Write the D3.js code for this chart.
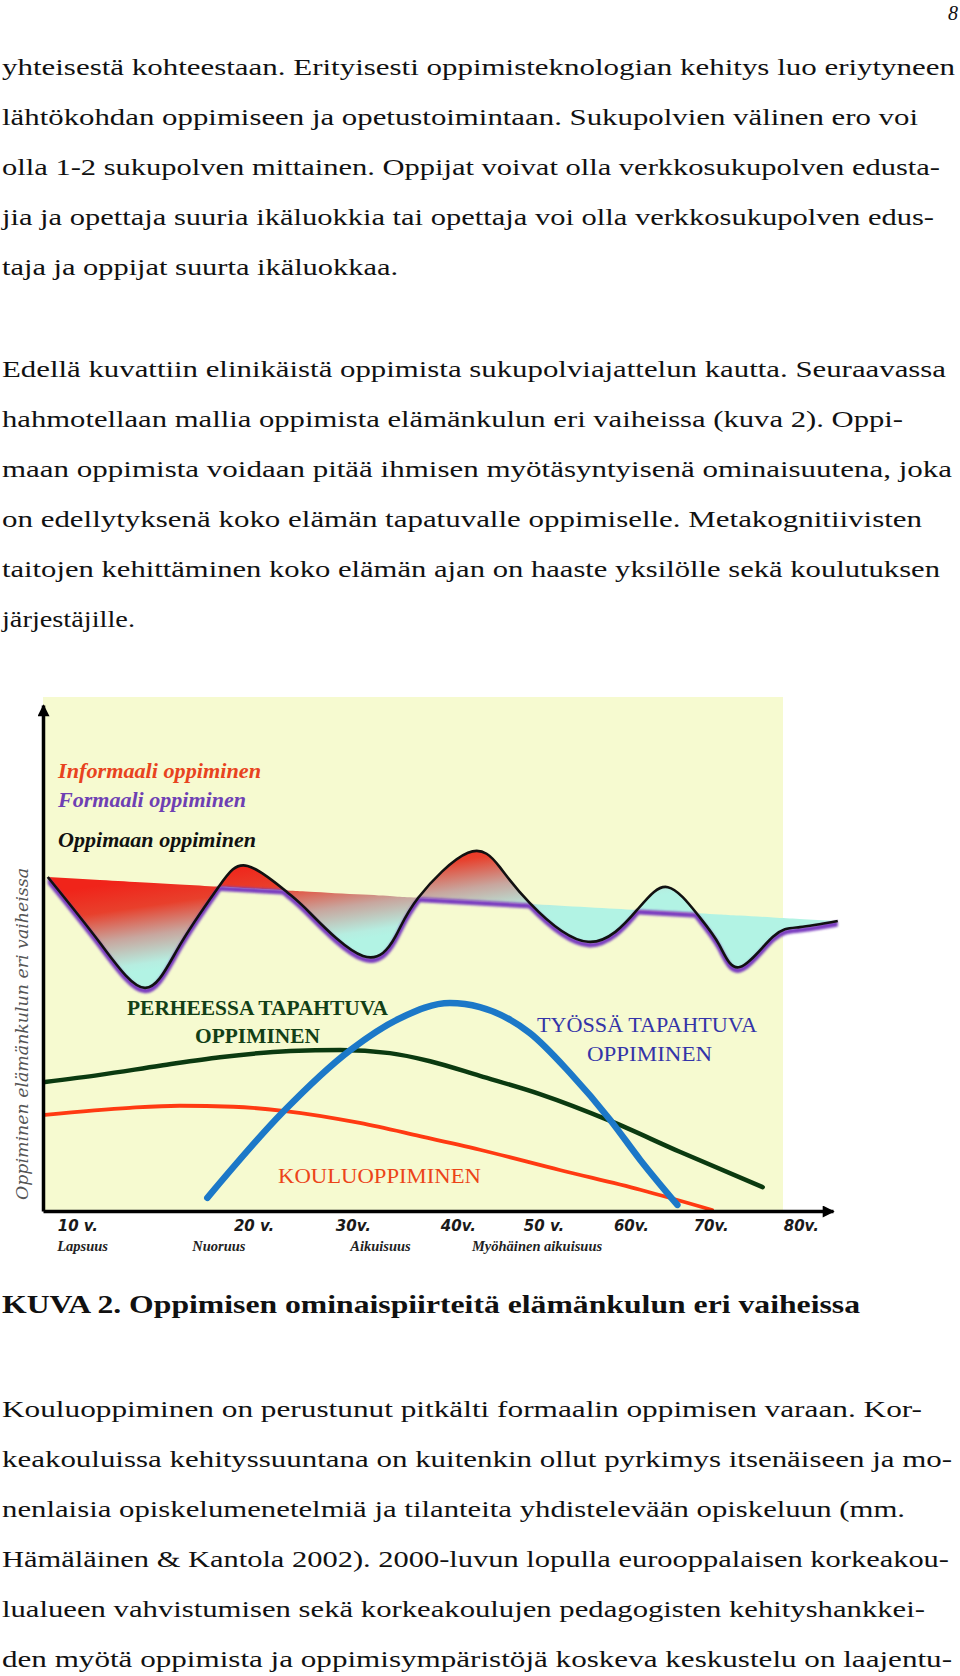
<!DOCTYPE html>
<html><head><meta charset="utf-8">
<script src="https://cdn.jsdelivr.net/npm/d3@7"></script>
<style>html,body{margin:0;padding:0;background:#fff;} svg{display:block;}</style>
</head><body>
<svg id="page" width="960" height="1676"></svg>
<script>
// ---------------- DATA ----------------
// x: position along the life-course axis (0..100), y: level (0..100)
const ageLabels   = ["10 v.","20 v.","30v.","40v.","50 v.","60v.","70v.","80v."];
const agePos      = [1.8, 24.1, 37.0, 50.3, 60.8, 72.2, 82.3, 93.7];
const phaseLabels = ["Lapsuus","Nuoruus","Aikuisuus","Myöhäinen aikuisuus"];
const phasePos    = [1.8, 18.9, 38.9, 54.3];

// Oppimaan oppiminen (wave)
const waveX = [0.6, 7.2, 12.9, 17.3, 22.2, 25.9, 30.9, 33.8, 40.5, 44.6, 47.5, 53.8, 57.8, 61.6, 69.0, 75.2, 79.1, 82.9, 85.6, 88.2, 92.4, 95.8, 100.6];
const waveY = [66.0, 53.0, 44.1, 52.5, 64.0, 68.2, 63.0, 58.9, 50.4, 54.2, 61.9, 70.8, 68.0, 60.9, 53.2, 59.5, 64.0, 58.5, 52.6, 48.2, 54.2, 56.1, 57.3];
// Formaali oppiminen reference line (start, end)
const formalX = [0.6, 100.6];
const formalY = [66.0, 57.3];

// Perheessä tapahtuva oppiminen
const familyX = [0.25, 7.2, 14.8, 22.4, 31.3, 37.6, 43.9, 49.0, 55.3, 62.9, 71.8, 80.6, 91.1];
const familyY = [25.5, 26.9, 28.7, 30.4, 31.6, 31.8, 31.2, 29.6, 26.7, 23.1, 17.8, 11.7, 4.7];
// Kouluoppiminen
const schoolX = [0.25, 11.0, 17.3, 24.1, 30.4, 40.1, 47.7, 55.3, 65.4, 75.6, 84.7];
const schoolY = [19.0, 20.4, 20.8, 20.6, 19.8, 17.4, 14.8, 12.1, 8.1, 4.2, 0.2];
// Työssä tapahtuva oppiminen
const workX = [20.8, 30.4, 38.9, 45.2, 51.5, 55.3, 61.6, 66.7, 71.8, 75.6, 80.3];
const workY = [2.6, 19.6, 31.8, 38.1, 41.1, 40.3, 35.2, 27.3, 18.0, 10.1, 1.2];

const legendTexts = ["Informaali oppiminen","Formaali oppiminen","Oppimaan oppiminen"];
const yAxisTitle = "Oppiminen elämänkulun eri vaiheissa";
const familyLabel = ["PERHEESSA TAPAHTUVA","OPPIMINEN"];
const workLabel = ["TYÖSSÄ TAPAHTUVA","OPPIMINEN"];
const schoolLabel = "KOULUOPPIMINEN";
const caption = "KUVA 2. Oppimisen ominaispiirteitä elämänkulun eri vaiheissa";

const para1 = [
 "yhteisestä kohteestaan.  Erityisesti oppimisteknologian kehitys luo eriytyneen",
 "lähtökohdan oppimiseen ja opetustoimintaan. Sukupolvien välinen ero voi",
 "olla 1-2 sukupolven mittainen. Oppijat voivat olla verkkosukupolven edusta-",
 "jia ja opettaja suuria ikäluokkia tai opettaja voi olla verkkosukupolven edus-",
 "taja ja oppijat suurta ikäluokkaa."
];
const para2 = [
 "Edellä kuvattiin elinikäistä oppimista sukupolviajattelun kautta. Seuraavassa",
 "hahmotellaan mallia oppimista elämänkulun eri vaiheissa (kuva 2). Oppi-",
 "maan oppimista voidaan pitää ihmisen myötäsyntyisenä ominaisuutena, joka",
 "on edellytyksenä koko elämän tapatuvalle oppimiselle.  Metakognitiivisten",
 "taitojen kehittäminen koko elämän ajan on haaste yksilölle sekä koulutuksen",
 "järjestäjille."
];
const para3 = [
 "Kouluoppiminen on perustunut pitkälti formaalin oppimisen varaan. Kor-",
 "keakouluissa kehityssuuntana on kuitenkin ollut pyrkimys itsenäiseen ja mo-",
 "nenlaisia opiskelumenetelmiä ja tilanteita yhdistelevään opiskeluun (mm.",
 "Hämäläinen & Kantola 2002). 2000-luvun lopulla eurooppalaisen korkeakou-",
 "lualueen vahvistumisen sekä korkeakoulujen pedagogisten kehityshankkei-",
 "den myötä oppimista ja oppimisympäristöjä koskeva keskustelu on laajentu-"
];

// ---------------- LAYOUT ----------------
const svg = d3.select("#page");
const bodyFont = "'Liberation Serif', 'Times New Roman', serif";
const textX = 2;
const lineW1 = [953, 916, 938, 932, 396];
const lineW2 = [944, 901, 950, 920, 938, 133];
const lineW3 = [920, 950, 903, 947, 923, 950];

function paragraph(lines, widths, y0) {
  svg.append("g").selectAll("text").data(lines).join("text")
    .attr("x", textX).attr("y", (d,i) => y0 + i*50)
    .attr("font-family", bodyFont).attr("font-size", 23.5).attr("fill", "#111")
    .attr("textLength", (d,i) => widths[i]).attr("lengthAdjust", "spacingAndGlyphs")
    .text(d => d);
}

svg.append("text").attr("x", 958).attr("y", 20).attr("text-anchor","end")
  .attr("font-family", bodyFont).attr("font-size", 20).attr("font-style","italic").attr("fill","#111").text("8");
paragraph(para1, lineW1, 75);
paragraph(para2, lineW2, 377);

// ---------------- CHART ----------------
const x = d3.scaleLinear().domain([0,100]).range([43,833]);
const y = d3.scaleLinear().domain([0,100]).range([1211,705]);
const formal = d3.scaleLinear().domain(formalX).range(formalY);

const defs = svg.append("defs");
const grad = defs.append("linearGradient").attr("id","waveGrad")
  .attr("gradientUnits","userSpaceOnUse")
  .attr("x1",0).attr("y1",900).attr("x2",13.2).attr("y2",990);
[[0,"#f0241a"],[0.3,"#e8402c"],[0.62,"#c8a69e"],[0.92,"#b6ede0"],[1,"#b2f3e4"]]
  .forEach(s => grad.append("stop").attr("offset", s[0]).attr("stop-color", s[1]));

defs.append("filter").attr("id","soft").attr("x","-5%").attr("y","-20%").attr("width","110%").attr("height","140%")
  .append("feGaussianBlur").attr("stdDeviation", 1.3);

defs.append("marker").attr("id","arrow").attr("viewBox","0 0 10 10")
  .attr("refX",9).attr("refY",5).attr("markerUnits","userSpaceOnUse")
  .attr("markerWidth",14).attr("markerHeight",12).attr("orient","auto")
  .append("path").attr("d","M0,0L10,5L0,10Z").attr("fill","#000");

// panel
svg.append("rect").attr("x", 43).attr("y", 697).attr("width", 740).attr("height", 514)
  .attr("fill", "#f6fad0");

const smooth = d3.curveNatural;
const wave = waveX.map((u,i) => ({u, v: waveY[i]}));
const waveLine = d3.line().x(d => x(d.u)).y(d => y(d.v)).curve(smooth);
const waveArea = d3.area().x(d => x(d.u)).y0(d => y(formal(d.u))).y1(d => y(d.v)).curve(smooth);
const formalPts = formalX.map((u,i) => ({u, v: formalY[i]}));
const straight = d3.line().x(d => x(d.u)).y(d => y(d.v));

// clip regions
defs.append("clipPath").attr("id","belowFormal").append("path")
  .attr("d", straight(formalPts) + `L${x(formalX[1])},${y(0)}L${x(formalX[0])},${y(0)}Z`);
defs.append("clipPath").attr("id","belowWave").append("path")
  .attr("d", d3.area().x(d => x(d.u)).y0(y(0)).y1(d => y(d.v)).curve(smooth)(wave));

svg.append("path").attr("d", waveArea(wave)).attr("fill","url(#waveGrad)");

// purple formal-learning band (shadow under the lower of the two)
const purple = svg.append("g").attr("filter","url(#soft)");
purple.append("g").attr("clip-path","url(#belowFormal)")
  .append("path").attr("d", waveLine(wave)).attr("transform","translate(0,3)")
  .attr("fill","none").attr("stroke","#7a3cc0").attr("stroke-width",5);
purple.append("g").attr("clip-path","url(#belowWave)")
  .append("path").attr("d", straight(formalPts)).attr("transform","translate(0,2)")
  .attr("fill","none").attr("stroke","#7a3cc0").attr("stroke-width",5);

svg.append("path").attr("d", waveLine(wave)).attr("fill","none")
  .attr("stroke","#111").attr("stroke-width",2.6);

const curve = d3.line().x(d => x(d.u)).y(d => y(d.v)).curve(d3.curveMonotoneX);
const toPts = (xs, ys) => xs.map((u,i) => ({u, v: ys[i]}));
svg.append("path").attr("d", curve(toPts(familyX, familyY))).attr("fill","none")
  .attr("stroke","#0b3a10").attr("stroke-width",4.5).attr("stroke-linecap","round");
svg.append("path").attr("d", curve(toPts(schoolX, schoolY))).attr("fill","none")
  .attr("stroke","#ff3a12").attr("stroke-width",3.8).attr("stroke-linecap","round");
svg.append("path").attr("d", curve(toPts(workX, workY))).attr("fill","none")
  .attr("stroke","#1c78c8").attr("stroke-width",6.5).attr("stroke-linecap","round");

// axes
const gx = svg.append("g").attr("transform",`translate(0,${y(0)})`)
  .call(d3.axisBottom(x).tickValues(agePos).tickFormat((d,i) => ageLabels[i]).tickSize(0));
gx.select(".domain").attr("stroke","#000").attr("stroke-width",3.5).attr("marker-end","url(#arrow)");
gx.selectAll(".tick text").attr("text-anchor","start").attr("y",20).attr("dy",null)
  .attr("font-family","'DejaVu Sans', sans-serif").attr("font-size",15)
  .attr("font-style","italic").attr("font-weight","bold").attr("fill","#1a1a1a");

const gy = svg.append("g").attr("transform",`translate(${x(0)},0)`)
  .call(d3.axisLeft(y).tickValues([]).tickSize(0));
gy.select(".domain").attr("stroke","#000").attr("stroke-width",3.5).attr("marker-end","url(#arrow)");

svg.append("g").selectAll("text").data(phaseLabels).join("text")
  .attr("x", d => x(phasePos[phaseLabels.indexOf(d)])).attr("y", 1251)
  .attr("font-family","'Liberation Serif', serif").attr("font-size",14.5)
  .attr("font-style","italic").attr("font-weight","bold").attr("fill","#222")
  .text(d => d);

// y title
svg.append("text").attr("transform","translate(28,1200) rotate(-90)")
  .attr("font-family","'DejaVu Serif', serif").attr("font-size",17).attr("font-style","italic")
  .attr("fill","#555")
  .attr("textLength",332).attr("lengthAdjust","spacingAndGlyphs").text(yAxisTitle);

// legend texts
const legendColors = ["#e8431e","#6e3fb3","#111"];
const legendY = [778, 807, 847];
const legendW = [203, 188, 198];
svg.append("g").selectAll("text").data(legendTexts).join("text")
  .attr("x", 58).attr("y", (d,i) => legendY[i])
  .attr("font-family","'Liberation Serif', serif").attr("font-size",21)
  .attr("font-style","italic").attr("font-weight","bold")
  .attr("fill",(d,i) => legendColors[i])
  .attr("textLength",(d,i) => legendW[i]).attr("lengthAdjust","spacingAndGlyphs")
  .text(d => d);

function label(t, px, py, w, color, bold) {
  svg.append("text").attr("x", px).attr("y", py)
    .attr("font-family","'Liberation Serif', serif").attr("font-size",22)
    .attr("font-weight", bold ? "bold" : "normal").attr("fill", color)
    .attr("textLength", w).attr("lengthAdjust","spacingAndGlyphs").text(t);
}
label(familyLabel[0], 127, 1015, 261, "#123f16", true);
label(familyLabel[1], 195, 1043, 125, "#123f16", true);
label(workLabel[0], 537, 1032, 220, "#3434a8", false);
label(workLabel[1], 587, 1061, 125, "#3434a8", false);
label(schoolLabel, 278, 1183, 203, "#ec4418", false);

// caption + following text
svg.append("text").attr("x", textX).attr("y", 1313)
  .attr("font-family", bodyFont).attr("font-size", 25).attr("font-weight","bold").attr("fill","#111")
  .attr("textLength", 858).attr("lengthAdjust","spacingAndGlyphs").text(caption);
paragraph(para3, lineW3, 1417);
</script>
</body></html>
